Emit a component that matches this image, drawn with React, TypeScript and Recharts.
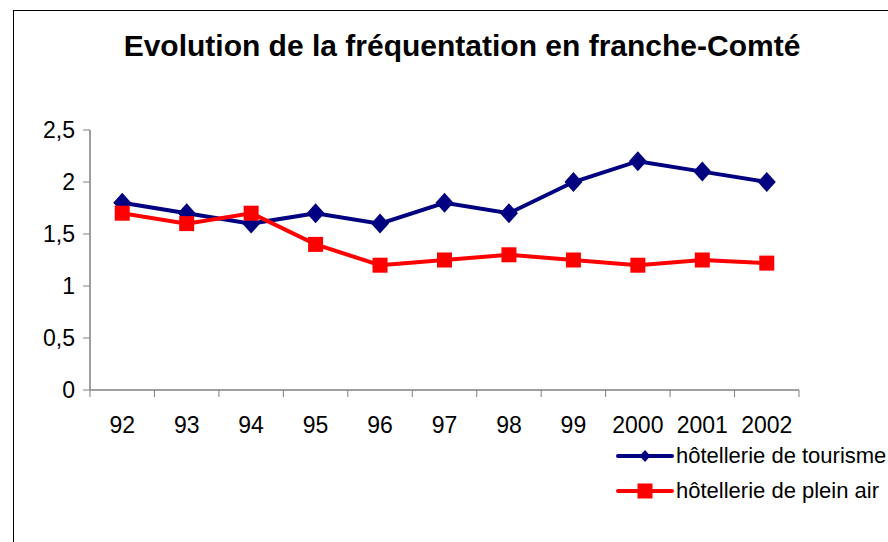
import React from 'react';
import { LineChart, Line, XAxis, YAxis } from 'recharts';

const years = ['92', '93', '94', '95', '96', '97', '98', '99', '2000', '2001', '2002'];
const tourisme = [1.8, 1.7, 1.6, 1.7, 1.6, 1.8, 1.7, 2.0, 2.2, 2.1, 2.0];
const pleinAir = [1.7, 1.6, 1.7, 1.4, 1.2, 1.25, 1.3, 1.25, 1.2, 1.25, 1.22];
const yTicks = [0, 0.5, 1, 1.5, 2, 2.5];

const NAVY = '#000080';
const RED = '#FF0000';
const AXIS = '#808080';
const FONT = '"Liberation Sans", Arial, sans-serif';

const data = years.map((year, i) => ({
  year,
  tourisme: tourisme[i],
  pleinAir: pleinAir[i]
}));

const Diamond = ({ cx, cy, w = 18, h = 20, color = NAVY }: any) => (
  <polygon
    points={`${cx},${cy - h / 2} ${cx + w / 2},${cy} ${cx},${cy + h / 2} ${cx - w / 2},${cy}`}
    fill={color}
  />
);

const Square = ({ cx, cy, s = 15, color = RED }: any) => (
  <rect x={cx - s / 2} y={cy - s / 2} width={s} height={s} fill={color} />
);

// category label centred in its band, tick marks on the band edges (Excel style)
const YearTick = ({ x, y, payload, index, visibleTicksCount }: any) => {
  const half = payload.offset || 0;
  const last = index === visibleTicksCount - 1;
  return (
    <g>
      <line x1={x - half} y1={y} x2={x - half} y2={y + 7} stroke={AXIS} />
      {last && <line x1={x + half} y1={y} x2={x + half} y2={y + 7} stroke={AXIS} />}
      <text x={x} y={y + 43} textAnchor="middle" fill="#000" fontSize={23} fontFamily={FONT}>
        {payload.value}
      </text>
    </g>
  );
};

const LegendBox = () => (
  <div style={{ position: 'absolute', left: 616, top: 438, fontFamily: FONT, fontSize: 22, color: '#000' }}>
    <div style={{ display: 'flex', alignItems: 'center', height: 35 }}>
      <svg width={60} height={24}>
        <line x1={2} y1={12} x2={56} y2={12} stroke={NAVY} strokeWidth={4} strokeLinecap="round" />
        <Diamond cx={29} cy={12} w={11} h={12} />
      </svg>
      <span>hôtellerie de tourisme</span>
    </div>
    <div style={{ display: 'flex', alignItems: 'center', height: 35 }}>
      <svg width={60} height={24}>
        <line x1={2} y1={12} x2={56} y2={12} stroke={RED} strokeWidth={4} strokeLinecap="round" />
        <Square cx={29} cy={12} s={15} />
      </svg>
      <span>hôtellerie de plein air</span>
    </div>
  </div>
);

export default function App() {
  return (
    <div style={{ position: 'absolute', left: 0, top: 0, width: 888, height: 542, background: '#fff', overflow: 'hidden' }}>
      <div
        style={{
          position: 'absolute',
          left: 13,
          top: 10,
          width: 1000,
          height: 800,
          borderLeft: '1px solid #000',
          borderTop: '1px solid #000'
        }}
      />
      <div
        style={{
          position: 'absolute',
          left: 0,
          width: 924,
          top: 29,
          textAlign: 'center',
          fontFamily: FONT,
          fontWeight: 'bold',
          fontSize: 30,
          color: '#000'
        }}
      >
        Evolution de la fréquentation en franche-Comté
      </div>
      <LineChart
        width={888}
        height={542}
        data={data}
        margin={{ top: 130, right: 89, bottom: 122, left: 0 }}
        style={{ position: 'absolute', left: 0, top: 0 }}
      >
        <XAxis
          dataKey="year"
          scale="band"
          height={30}
          axisLine={{ stroke: AXIS, strokeWidth: 1.5 }}
          tickLine={false}
          tickSize={0}
          tickMargin={0}
          interval={0}
          tick={<YearTick />}
        />
        <YAxis
          domain={[0, 2.5]}
          ticks={yTicks}
          width={90}
          axisLine={{ stroke: AXIS, strokeWidth: 1.5 }}
          tickLine={{ stroke: AXIS }}
          tickSize={7}
          tickMargin={8}
          tick={{ fill: '#000', fontSize: 23, fontFamily: FONT }}
          tickFormatter={(v: number) => String(v).replace('.', ',')}
        />
        <Line
          dataKey="tourisme"
          name="hôtellerie de tourisme"
          stroke={NAVY}
          strokeWidth={4}
          isAnimationActive={false}
          dot={(p: any) => <Diamond key={`d-${p.index}`} cx={p.cx} cy={p.cy} />}
          activeDot={false}
        />
        <Line
          dataKey="pleinAir"
          name="hôtellerie de plein air"
          stroke={RED}
          strokeWidth={4}
          isAnimationActive={false}
          dot={(p: any) => <Square key={`s-${p.index}`} cx={p.cx} cy={p.cy} />}
          activeDot={false}
        />
      </LineChart>
      <LegendBox />
    </div>
  );
}
